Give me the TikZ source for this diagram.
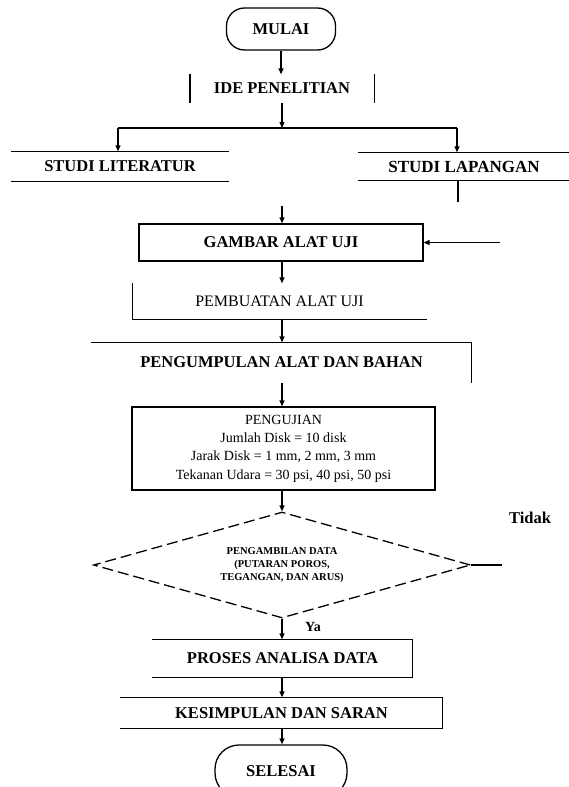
\documentclass[tikz,border=0pt]{standalone}
\usepackage{fontspec}
\setmainfont{Liberation Serif}
\usetikzlibrary{shapes.geometric,arrows.meta}
\begin{document}
\begin{tikzpicture}[x=1pt,y=-1pt,
  line width=1.3pt,
  arr/.style={-{Triangle[length=6pt,width=5pt]}},
  lb/.style={font=\fontsize{16.5}{18}\selectfont\bfseries, inner sep=0pt},
  bx/.style={lb, draw},
  term/.style={lb, draw, rounded corners=18pt},
  small/.style={font=\fontsize{14}{18.3}\selectfont, inner sep=0pt, align=center},
  dec/.style={draw, diamond, dash pattern=on 11pt off 5pt, shape aspect=3.5, inner sep=0pt,
    font=\fontsize{10.5}{13}\selectfont\bfseries, align=center}
]
\clip (0,0) rectangle (569,787);

% start
\node[term, minimum width=109pt, minimum height=42pt] (mulai) at (281,29) {MULAI};

% idea
\node[lb, minimum width=183pt, minimum height=27pt] (ide) at (282,88.5) {IDE PENELITIAN};
\draw (ide.north west) -- (ide.south west) (ide.north east) -- (ide.south east);
\draw[arr] (mulai.south) -- (mulai.south |- ide.north);

% split
\coordinate (split) at (282,128);
\coordinate (sl) at (118,128);
\coordinate (sr) at (457,128);
\draw[arr] (ide.south) -- (split);
\draw (sl) -- (sr);

\node[lb, minimum width=216pt, minimum height=29pt] (lit) at (120,166.5) {STUDI LITERATUR};
\draw (lit.north west) -- (lit.north east) (lit.south west) -- (lit.south east);
\draw[arr] (sl) -- (sl |- lit.north);

\node[lb, font=\fontsize{17}{18}\selectfont\bfseries, minimum width=210pt, minimum height=27pt] (lap) at (464,166.5) {STUDI LAPANGAN};
\draw (lap.north west) -- (lap.north east) (lap.south west) -- (lap.south east);
\draw[arr] (sr) -- (sr |- lap.north);
\coordinate (stub) at (458,202);
\draw (stub |- lap.south) -- (stub);

% gambar
\coordinate (gin) at (282,206);
\coordinate (gr) at (500,242.5);
\node[bx, minimum width=284pt, minimum height=37pt] (gambar) at (281,242.5) {GAMBAR ALAT UJI};
\draw[arr] (gin) -- (gin |- gambar.north);
\draw[arr] (gr) -- (gambar.east);

% pembuatan
\node[lb, font=\fontsize{16}{18}\selectfont, minimum width=293pt, minimum height=35pt] (buat) at (279.5,301.5) {PEMBUATAN ALAT UJI};
\draw (buat.north west) -- (buat.south west) -- (buat.south east);
\draw[arr] (gin |- gambar.south) -- (gin |- buat.north);

% pengumpulan
\node[lb, minimum width=379pt, minimum height=39pt] (kump) at (281.5,362.5) {PENGUMPULAN ALAT DAN BAHAN};
\draw (kump.north west) -- (kump.north east) -- (kump.south east);
\draw[arr] (gin |- buat.south) -- (gin |- kump.north);

% pengujian
\node[draw, small, minimum width=303pt, minimum height=83pt] (uji) at (283.5,448.5)
  {PENGUJIAN\\Jumlah Disk = 10 disk\\Jarak Disk = 1 mm, 2 mm, 3 mm\\Tekanan Udara = 30 psi, 40 psi, 50 psi};
\draw[arr] (gin |- kump.south) -- (gin |- uji.north);

% decision
\node[dec, minimum width=377pt, minimum height=106pt] (data) at (282,565)
  {PENGAMBILAN DATA\\(PUTARAN POROS,\\TEGANGAN, DAN ARUS)};
\draw[arr] (gin |- uji.south) -- (data.north);
\coordinate (tend) at (502,565);
\draw (data.east) -- (tend);
\node[lb] (tidak) at (530,518) {Tidak};

% proses
\node[lb, minimum width=259pt, minimum height=37pt] (proses) at (282.5,658.5) {PROSES ANALISA DATA};
\draw (proses.north west) -- (proses.north east) -- (proses.south east) -- (proses.south west);
\draw[arr] (data.south) -- (data.south |- proses.north);
\node[lb, font=\fontsize{14}{16}\selectfont\bfseries] (ya) at (313,627) {Ya};

% kesimpulan
\node[lb, minimum width=321pt, minimum height=30pt] (kes) at (281.5,713) {KESIMPULAN DAN SARAN};
\draw (kes.north west) -- (kes.north east) -- (kes.south east) -- (kes.south west);
\draw[arr] (gin |- proses.south) -- (gin |- kes.north);

% end
\node[term, rounded corners=24pt, minimum width=132pt, minimum height=52pt] (selesai) at (281,771) {SELESAI};
\draw[arr] (gin |- kes.south) -- (gin |- selesai.north);
\end{tikzpicture}
\end{document}
